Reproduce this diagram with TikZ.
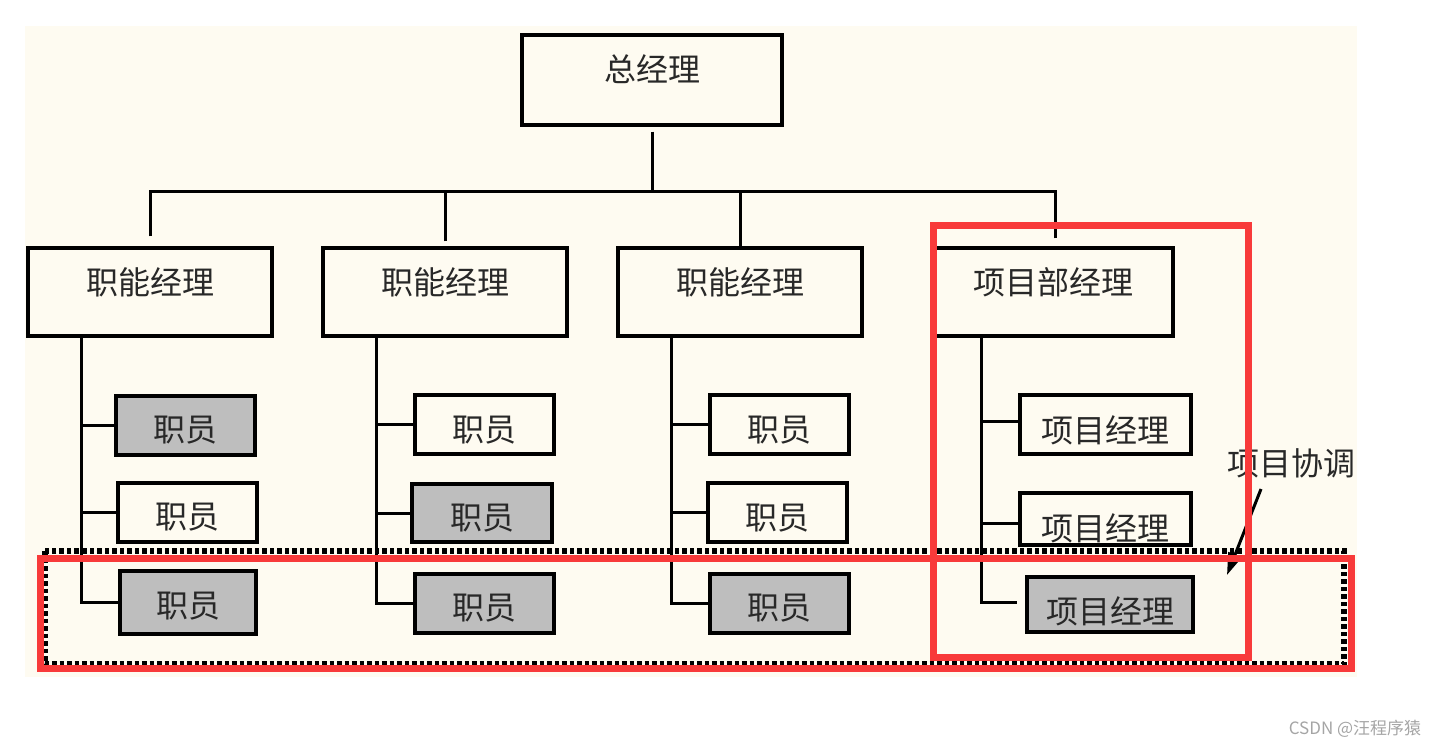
\documentclass[tikz,border=0pt]{standalone}
\usepackage{fontspec}
\setmainfont{Noto Sans CJK SC}
\usetikzlibrary{arrows.meta}
\definecolor{cream}{RGB}{254,251,241}
\definecolor{boxgray}{RGB}{190,190,190}
\definecolor{txt}{RGB}{40,40,40}
\definecolor{redc}{RGB}{248,58,58}
\definecolor{wmark}{RGB}{165,165,165}
\tikzset{
  box/.style={draw=black, line width=3.2pt, fill=cream, inner sep=0pt,
    font=\fontsize{32}{36}\selectfont, text=txt, text depth=0pt},
  graybox/.style={box, fill=boxgray},
  conn/.style={line width=3pt, draw=black},
  redframe/.style={draw=redc, line width=7pt},
  dotframe/.style={draw=black, line width=5.5pt, dash pattern=on 4.5pt off 3pt},
}
\begin{document}
\begin{tikzpicture}[x=1pt,y=-1pt]
\useasboundingbox (0,0) rectangle (1439,747);
\fill[cream] (25,26) rectangle (1357,677);

% boxes
\node[box, minimum width=260pt, minimum height=90pt, text height=2pt] (gm) at (652,80) {总经理};
\node[box, minimum width=244pt, minimum height=88pt, text height=4pt] (f1) at (150,292) {职能经理};
\node[box, minimum width=244pt, minimum height=88pt, text height=4pt] (f2) at (445,292) {职能经理};
\node[box, minimum width=244pt, minimum height=88pt, text height=4pt] (f3) at (740,292) {职能经理};
\node[box, minimum width=240pt, minimum height=88pt, text height=4pt] (pm) at (1053,292) {项目部经理};

\node[graybox, minimum width=139pt, minimum height=59pt, text height=31pt] (s11) at (185.5,425.5) {职员};
\node[box, minimum width=139pt, minimum height=59pt, text height=31pt] (s12) at (187.5,512.5) {职员};
\node[graybox, minimum width=136pt, minimum height=63pt, text height=29pt] (s13) at (188,602.5) {职员};

\node[box, minimum width=139pt, minimum height=59pt, text height=34pt] (s21) at (484.5,424.5) {职员};
\node[graybox, minimum width=140pt, minimum height=58pt, text height=32pt] (s22) at (482,513) {职员};
\node[graybox, minimum width=139pt, minimum height=59pt, text height=31pt] (s23) at (484.5,603.5) {职员};

\node[box, minimum width=139pt, minimum height=59pt, text height=34pt] (s31) at (779.5,424.5) {职员};
\node[box, minimum width=139pt, minimum height=59pt, text height=33pt] (s32) at (777.5,512.5) {职员};
\node[graybox, minimum width=139pt, minimum height=59pt, text height=32pt] (s33) at (779.5,603.5) {职员};

\node[box, minimum width=171pt, minimum height=59pt, text height=35pt] (p1) at (1105.5,424.5) {项目经理};
\node[box, minimum width=171pt, minimum height=52pt, text height=42pt] (p2) at (1105.5,519) {项目经理};
\node[graybox, minimum width=166pt, minimum height=55pt, text height=37pt] (p3) at (1110,604.5) {项目经理};

% top connectors
\coordinate (bus) at (652,191);
\draw[conn, shorten <=5pt] (gm.south) -- (bus);
\draw[conn, shorten <=10pt] (f1.north) |- (bus);
\draw[conn, shorten <=5pt] (f2.north) |- (bus);
\draw[conn] (f3.north) |- (bus);
\draw[conn, shorten <=8pt] ([xshift=2pt]pm.north) |- (bus);

% branch connectors
\coordinate (c1) at ([xshift=55pt]f1.south west);
\coordinate (c2) at ([xshift=55pt]f2.south west);
\coordinate (c3) at ([xshift=55pt]f3.south west);
\coordinate (c4) at ([xshift=50pt]pm.south west);
\draw[conn] (c1) |- (s13.west);
\draw[conn] (s11.west) -- (s11.west -| c1);
\draw[conn] (s12.west) -- (s12.west -| c1);
\draw[conn] (c2) |- (s23.west);
\draw[conn] (s21.west) -- (s21.west -| c2);
\draw[conn] (s22.west) -- (s22.west -| c2);
\draw[conn] (c3) |- (s33.west);
\draw[conn] (s31.west) -- (s31.west -| c3);
\draw[conn] (s32.west) -- (s32.west -| c3);
\coordinate (p3stub) at (1017,602);
\draw[conn] (c4) |- (p3stub);
\draw[conn] ([yshift=3.5pt]p1.west) -- ([yshift=3.5pt]p1.west -| c4);
\draw[conn] ([yshift=-4pt]p2.west) -- ([yshift=-4pt]p2.west -| c4);

% dotted frame
\draw[dotframe] (45,551) rectangle (1344,664);

% label and arrow
\node[font=\fontsize{32}{36}\selectfont, text=txt, inner sep=0pt, text height=24pt, text depth=0pt] (coord) at (1291,463) {项目协调};
\coordinate (a1) at (1261,489);
\coordinate (a2) at (1227,575);
\draw[conn, -{Triangle[length=22pt,width=14pt]}] (a1) -- (a2);

% red frames
\draw[redframe] (40,558) rectangle (1351,668);
\draw[redframe] (933,225) rectangle (1248,657);

% watermark
\node[font=\fontsize{17}{20}\selectfont, text=wmark, inner sep=0pt] (wm) at (1355,729) {CSDN @汪程序猿};
\end{tikzpicture}
\end{document}
